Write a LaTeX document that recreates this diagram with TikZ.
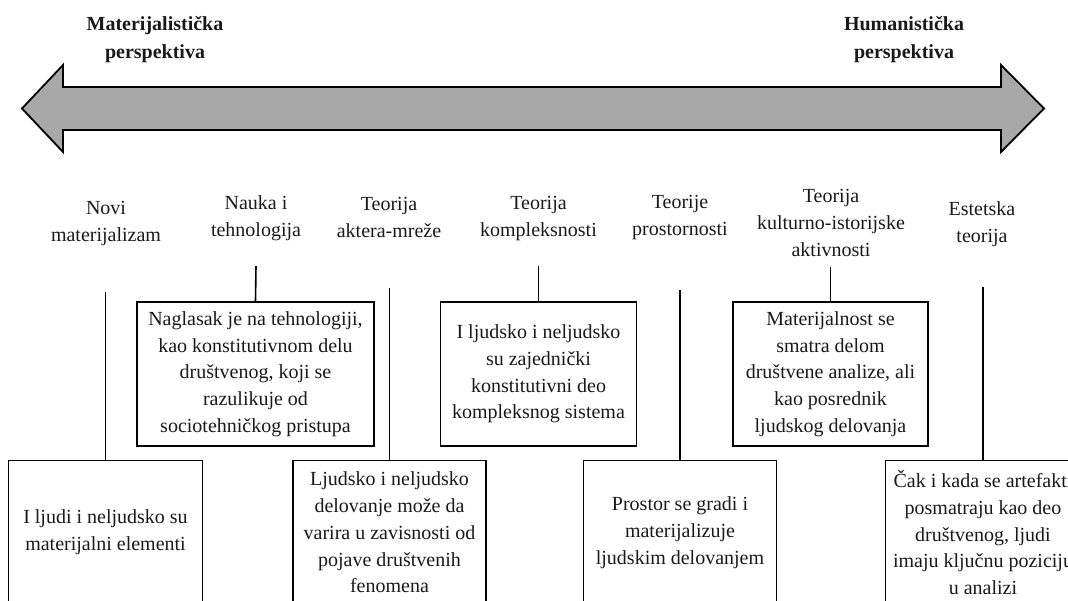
\documentclass[tikz,border=0pt]{standalone}
\usepackage{fontspec}
\setmainfont{Liberation Serif}
\definecolor{arrowgray}{HTML}{A8A8A8}
\begin{document}
\begin{tikzpicture}[x=1pt,y=-1pt,
  every node/.style={font=\fontsize{20}{26.7}\selectfont, inner sep=0pt, text=black!90},
  box/.style={draw=black, line width=1.6pt, align=center, inner sep=0pt},
  topbox/.style={box, minimum height=144pt},
  botbox/.style={box, minimum height=144pt},
  lbl/.style={align=center},
  persp/.style={align=center, font=\bfseries\fontsize{20}{28}\selectfont},
  conn/.style={draw=black, line width=1.6pt}]
\useasboundingbox (0,0) rectangle (1068,600);
\clip (0,0) rectangle (1068,600);

% double-headed arrow
\draw[line width=1.8pt, fill=arrowgray] (22,108.5) -- (63,65) -- (63,87) -- (1001,87) -- (1001,65)
  -- (1044,108.5) -- (1001,152) -- (1001,130) -- (63,130) -- (63,152) -- cycle;

% perspective labels
\node[persp] (mat) at (155,40) {Materijalistička\\perspektiva};
\node[persp] (hum) at (904,40) {Humanistička\\perspektiva};

% column headers
\node[lbl] (h1) at (106,223.5) {Novi\\materijalizam};
\node[lbl] (h2) at (256,218.5) {Nauka i\\tehnologija};
\node[lbl] (h3) at (389,217.5) {Teorija\\aktera-mreže};
\node[lbl] (h4) at (538.5,218.5) {Teorija\\kompleksnosti};
\node[lbl] (h5) at (680,217.5) {Teorije\\prostornosti};
\node[lbl] (h6) at (831,223) {Teorija\\kulturno-istorijske\\aktivnosti};
\node[lbl] (h7) at (982,224.5) {Estetska\\teorija};

% upper boxes
\node[topbox, minimum width=237pt] (b2) at (255.5,374) {Naglasak je na tehnologiji,\\kao konstitutivnom delu\\društvenog, koji se\\razulikuje od\\sociotehničkog pristupa};
\node[topbox, minimum width=196pt] (b4) at (538.5,374) {I ljudsko i neljudsko\\su zajednički\\konstitutivni deo\\kompleksnog sistema};
\node[topbox, minimum width=195pt] (b6) at (830.5,374) {Materijalnost se\\smatra delom\\društvene analize, ali\\kao posrednik\\ljudskog delovanja};

% lower boxes
\node[botbox, minimum width=194pt] (b1) at (105.5,532.5) {I ljudi i neljudsko su\\materijalni elementi};
\node[botbox, minimum width=193pt] (b3) at (389.5,532.5) {Ljudsko i neljudsko\\delovanje može da\\varira u zavisnosti od\\pojave društvenih\\fenomena};
\node[botbox, minimum width=193pt] (b5) at (680,532.5) {Prostor se gradi i\\materijalizuje\\ljudskim delovanjem};
\node[botbox, minimum width=195pt] (b7) at (983,532.5) {Čak i kada se artefakti\\posmatraju kao deo\\društvenog, ljudi\\imaju ključnu poziciju\\u analizi};

% connector top ends
\coordinate (s2) at (256,266);
\coordinate (s4) at (538.5,266);
\coordinate (s6) at (830.5,267);
\coordinate (t1) at (105.5,292);
\coordinate (t3) at (389.5,288);
\coordinate (t5) at (680,290);
\coordinate (t7) at (983,287);

\draw[conn] (s2) -- (b2.north);
\draw[conn] (s4) -- (b4.north);
\draw[conn] (s6) -- (b6.north);
\draw[conn] (t1) -- (b1.north);
\draw[conn] (t3) -- (b3.north);
\draw[conn] (t5) -- (b5.north);
\draw[conn] (t7) -- (b7.north);
\end{tikzpicture}
\end{document}
